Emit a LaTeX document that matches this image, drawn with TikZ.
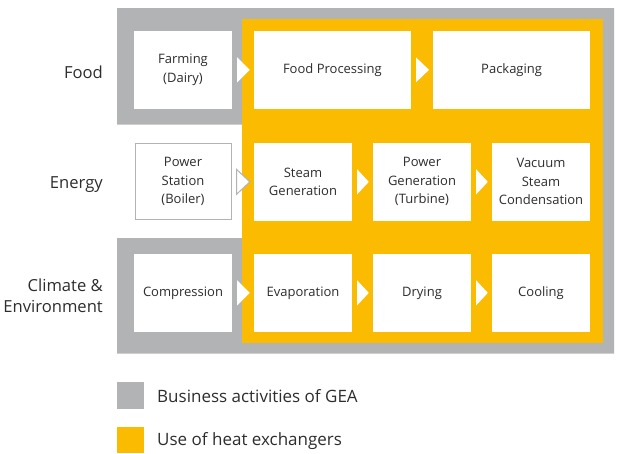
\documentclass[tikz,border=0pt]{standalone}
\usepackage{fontspec}
\setmainfont{Open Sans}
\newlength{\du}
\setlength{\du}{1\unitlength}
\definecolor{geagray}{RGB}{178,179,181}
\definecolor{geayellow}{RGB}{250,187,0}
\definecolor{geatext}{RGB}{45,45,45}
\tikzset{
  stepbox/.style={fill=white, draw=none, text=geatext, align=center, inner sep=0pt,
    minimum width=98\du, minimum height=77.7\du, font=\fontsize{13}{18.5}\selectfont},
  widebox/.style={stepbox, minimum width=156.8\du},
  rowlabel/.style={anchor=east, align=right, text=geatext, inner sep=0pt,
    font=\fontsize{16.6}{20.6}\selectfont},
  keytext/.style={anchor=west, text=geatext, inner sep=0pt, font=\fontsize{17}{20}\selectfont},
  chev/.style={fill=white},
}

\begin{document}
\begin{tikzpicture}
\pgftransformxscale{1.000000}
\pgftransformyscale{-1.000000}
\useasboundingbox (0\du,0\du) rectangle (617\du,453\du);
% gray frame, open at the energy row
\fill[geagray] (117\du,8\du)--(614\du,8\du)--(614\du,353.5\du)--(117\du,353.5\du)--(117\du,238\du)--(242\du,238\du)--(242\du,124.5\du)--(117\du,124.5\du)--cycle;
% yellow field
\fill[geayellow] (242\du,19.3\du)--(603.3\du,19.3\du)--(603.3\du,342.7\du)--(242\du,342.7\du)--cycle;
% row labels
\node[rowlabel] (food) at (103\du,72\du){Food};
\node[rowlabel] (energy) at (103\du,185\du){Energy};
\node[rowlabel] (climate) at (103\du,296\du){Climate \&\\Environment};
% food row
\node[stepbox] (farm) at (183\du,69.85\du){Farming\\(Dairy)};
\node[widebox] (foodproc) at (332.4\du,69.85\du){Food Processing};
\node[widebox] (pack) at (511.6\du,69.85\du){Packaging};
% energy row
\node[stepbox, draw=geagray, line width=1\du, minimum width=96\du, minimum height=76\du] (power) at (183\du,181.85\du){Power\\Station\\(Boiler)};
\node[stepbox] (steam) at (303\du,181.85\du){Steam\\Generation};
\node[stepbox] (powgen) at (422\du,181.85\du){Power\\Generation\\(Turbine)};
\node[stepbox] (vacuum) at (541\du,181.85\du){Vacuum\\Steam\\Condensation};
% climate row
\node[stepbox] (compr) at (183\du,292.85\du){Compression};
\node[stepbox] (evap) at (303\du,292.85\du){Evaporation};
\node[stepbox] (dry) at (422\du,292.85\du){Drying};
\node[stepbox] (cool) at (541\du,292.85\du){Cooling};
% chevrons
\fill[chev] ([xshift=5\du,yshift=12.5\du]farm.east)--([xshift=-4\du]foodproc.west)--([xshift=5\du,yshift=-12.5\du]farm.east)--cycle;
\fill[chev] ([xshift=5\du,yshift=12.5\du]foodproc.east)--([xshift=-4\du]pack.west)--([xshift=5\du,yshift=-12.5\du]foodproc.east)--cycle;
\filldraw[chev, draw=geagray, line width=1\du, line join=miter] ([xshift=5\du,yshift=12.5\du]power.east)--([xshift=-4\du]steam.west)--([xshift=5\du,yshift=-12.5\du]power.east)--cycle;
\fill[chev] ([xshift=5\du,yshift=12.5\du]steam.east)--([xshift=-4\du]powgen.west)--([xshift=5\du,yshift=-12.5\du]steam.east)--cycle;
\fill[chev] ([xshift=5\du,yshift=12.5\du]powgen.east)--([xshift=-4\du]vacuum.west)--([xshift=5\du,yshift=-12.5\du]powgen.east)--cycle;
\fill[chev] ([xshift=5\du,yshift=12.5\du]compr.east)--([xshift=-4\du]evap.west)--([xshift=5\du,yshift=-12.5\du]compr.east)--cycle;
\fill[chev] ([xshift=5\du,yshift=12.5\du]evap.east)--([xshift=-4\du]dry.west)--([xshift=5\du,yshift=-12.5\du]evap.east)--cycle;
\fill[chev] ([xshift=5\du,yshift=12.5\du]dry.east)--([xshift=-4\du]cool.west)--([xshift=5\du,yshift=-12.5\du]dry.east)--cycle;
% legend
\fill[geagray] (117\du,382.3\du)--(144\du,382.3\du)--(144\du,409\du)--(117\du,409\du)--cycle;
\node[keytext] (keygray) at (157\du,396\du){Business activities of GEA};
\fill[geayellow] (117\du,427\du)--(144\du,427\du)--(144\du,453\du)--(117\du,453\du)--cycle;
\node[keytext] (keyyellow) at (157\du,441\du){Use of heat exchangers};
\end{tikzpicture}
\end{document}
